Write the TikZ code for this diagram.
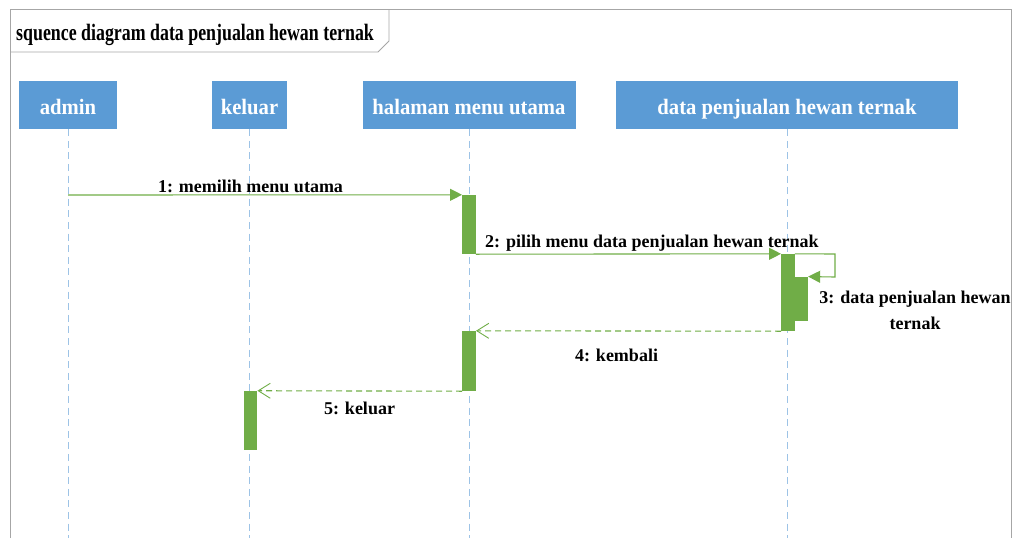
\documentclass[tikz,border=0pt]{standalone}
\usepackage{fontspec}
\setmainfont{Liberation Serif}
\newfontfamily\titlefont[FakeStretch=0.76]{Liberation Serif}
\newfontfamily\headfont[FakeStretch=0.94]{Liberation Serif}
\usetikzlibrary{arrows.meta}
\definecolor{headblue}{HTML}{5B9BD5}
\definecolor{lifeblue}{HTML}{9DC3E6}
\definecolor{actgreen}{HTML}{70AD47}
\definecolor{framegray}{HTML}{A6A6A6}
\tikzset{
  head/.style={fill=headblue, draw=none, minimum height=48pt, inner sep=0pt,
    text=white, font=\headfont\bfseries\fontsize{22}{24}\selectfont,
    text height=18pt, text depth=0pt},
  life/.style={draw=lifeblue, line width=0.9pt, dash pattern=on 7pt off 4.6pt},
  bar/.style={fill=actgreen, draw=none, inner sep=0pt, minimum width=13.5pt},
  msg/.style={draw=actgreen, line width=1.1pt, -{Triangle[length=12pt,width=12pt]}},
  reply/.style={draw=actgreen, line width=1.1pt, dash pattern=on 6pt off 4pt,
    -{Straight Barb[length=12pt,width=15pt,line width=0.9pt]}},
  lbl/.style={font=\bfseries\fontsize{18}{26}\selectfont, inner sep=0pt},
}
\begin{document}
\begin{tikzpicture}[x=1pt,y=-1pt]
\useasboundingbox (0,0) rectangle (1016,538);
% outer frame and title tab
\draw[framegray, line width=0.9pt] (10,538) -- (10,9) -- (1011,9) -- (1011,538);
\draw[framegray, line width=0.9pt] (10,52) -- (378,52) -- (389,41) -- (389,9);
\node[font=\titlefont\bfseries\fontsize{23.5}{26}\selectfont, inner sep=0pt, anchor=base west]
  (title) at (16,40) {squence diagram data penjualan hewan ternak};

% lifeline heads
\node[head, minimum width=98pt]  (admin)  at (68,105)  {admin};
\node[head, minimum width=75pt]  (keluar) at (249.5,105) {keluar};
\node[head, minimum width=213pt] (menu)   at (469,105) {halaman menu utama};
\node[head, minimum width=342pt] (data)   at (787,105) {data penjualan hewan ternak};

% lifelines
\coordinate (adminEnd)  at (68,538);
\coordinate (keluarEnd) at (249.5,538);
\coordinate (menuEnd)   at (469,538);
\coordinate (dataEnd)   at (787,538);
\draw[life] (admin.south)  -- (adminEnd);
\draw[life] (keluar.south) -- (keluarEnd);
\draw[life] (menu.south)   -- (menuEnd);
\draw[life] (data.south)   -- (dataEnd);

% activation bars
\node[bar, minimum height=59pt] (act1) at (469,224.5) {};
\node[bar, minimum height=77pt] (act2) at (788,292.5) {};
\node[bar, minimum height=44pt] (act3) at (801.2,298.8) {};
\node[bar, minimum height=60pt] (act4) at (469,361) {};
\node[bar, minimum height=59.5pt] (act5) at (250.5,420.7) {};

% messages
\coordinate (m1start) at (68,195);
\draw[msg] (m1start) -- (act1.north west);
\node[lbl, anchor=base] (l1) at (250.5,192) {1: memilih menu utama};

\draw[msg] (act1.south east) -- (act2.north west);
\node[lbl, anchor=base west] (l2) at (485,247) {2: pilih menu data penjualan hewan ternak};

\coordinate (loopA) at (835,254);
\coordinate (loopB) at (835,277);
\draw[msg] (act2.north east) -- (loopA) -- (loopB) -- (act3.north east);
\node[lbl, align=center, anchor=base] (l3) at (915,329) {3: data penjualan hewan\\ternak};

\draw[reply] (act2.south west) -- (act4.north east);
\node[lbl, anchor=base] (l4) at (616.5,361) {4: kembali};

\draw[reply] (act4.south west) -- (act5.north east);
\node[lbl, anchor=base] (l5) at (359.5,414) {5: keluar};
\end{tikzpicture}
\end{document}
